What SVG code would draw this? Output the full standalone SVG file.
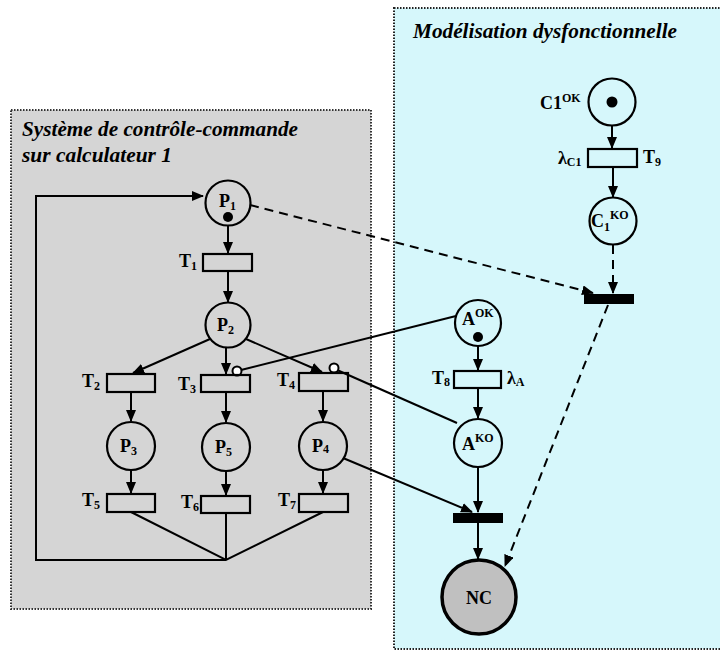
<svg xmlns="http://www.w3.org/2000/svg" width="720" height="651" viewBox="0 0 720 651">
<defs>
<marker id="arr" markerUnits="userSpaceOnUse" markerWidth="12" markerHeight="10" refX="11" refY="5" orient="auto"><path d="M0,0 L12,5 L0,10 Z" fill="#000"/></marker>
<style>
.t{font-family:"Liberation Serif",serif;font-weight:bold;fill:#000;font-size:18px}
.title{font-family:"Liberation Serif",serif;font-weight:bold;font-style:italic;font-size:20px;fill:#000}
.pl{fill:none;stroke:#000;stroke-width:2.2}
.tr{fill:none;stroke:#000;stroke-width:2.2}
.bar{fill:#000}
.ln{fill:none;stroke:#000;stroke-width:2}
.da{fill:none;stroke:#000;stroke-width:2;stroke-dasharray:9,6}
.inh{fill:#fff;stroke:#000;stroke-width:2}
.sub{font-size:12px}
</style>
</defs>
<rect width="720" height="651" fill="#fff"/>
<text class="t" x="-13" y="17" font-size="22">A</text>
<g id="box-left">
<rect x="11" y="110" width="360" height="499" fill="#d5d5d5" stroke="#333" stroke-width="2" stroke-dasharray="1.5,1.5"/>
<text class="title" x="22" y="136" textLength="276" lengthAdjust="spacingAndGlyphs">Système de contrôle-commande</text>
<text class="title" x="22" y="162" textLength="150" lengthAdjust="spacingAndGlyphs">sur calculateur 1</text>
</g>
<g id="box-right">
<rect x="394" y="8" width="330" height="641" fill="#d6f7fb" stroke="#222" stroke-width="2" stroke-dasharray="1.5,1.5"/>
<text class="title" x="413" y="38" textLength="264" lengthAdjust="spacingAndGlyphs">Modélisation dysfonctionnelle</text>
</g>
<g id="connectors">
<polyline class="ln" points="226,560 36,560 36,196 203,196" marker-end="url(#arr)"/>
<line class="ln" x1="228" y1="226" x2="228" y2="253" marker-end="url(#arr)"/>
<line class="ln" x1="228" y1="271" x2="228" y2="302" marker-end="url(#arr)"/>
<line class="ln" x1="210" y1="339" x2="133" y2="373" marker-end="url(#arr)"/>
<line class="ln" x1="226" y1="347" x2="226" y2="374" marker-end="url(#arr)"/>
<line class="ln" x1="246" y1="339" x2="322" y2="372" marker-end="url(#arr)"/>
<line class="ln" x1="131" y1="392" x2="131" y2="421" marker-end="url(#arr)"/>
<line class="ln" x1="226" y1="392" x2="226" y2="422" marker-end="url(#arr)"/>
<line class="ln" x1="323" y1="391" x2="323" y2="421" marker-end="url(#arr)"/>
<line class="ln" x1="131" y1="470" x2="131" y2="493" marker-end="url(#arr)"/>
<line class="ln" x1="226" y1="471" x2="226" y2="495" marker-end="url(#arr)"/>
<line class="ln" x1="323" y1="470" x2="323" y2="493" marker-end="url(#arr)"/>
<polyline class="ln" points="131,512 226,560 323,512"/>
<line class="ln" x1="226" y1="513" x2="226" y2="560"/>
<line class="ln" x1="456" y1="316" x2="241" y2="370"/>
<line class="ln" x1="457" y1="423" x2="337" y2="370"/>
<line class="ln" x1="343" y1="458" x2="472" y2="512" marker-end="url(#arr)"/>
<line class="ln" x1="612" y1="126" x2="612" y2="148" marker-end="url(#arr)"/>
<line class="ln" x1="613" y1="167" x2="613" y2="197" marker-end="url(#arr)"/>
<line class="da" x1="613" y1="245" x2="613" y2="293" marker-end="url(#arr)"/>
<line class="da" x1="250" y1="205" x2="593" y2="293" marker-end="url(#arr)"/>
<line class="da" x1="608" y1="305" x2="505" y2="566" marker-end="url(#arr)"/>
<line class="ln" x1="478" y1="346" x2="478" y2="370" marker-end="url(#arr)"/>
<line class="ln" x1="478" y1="388" x2="478" y2="418" marker-end="url(#arr)"/>
<line class="ln" x1="478" y1="467" x2="478" y2="512" marker-end="url(#arr)"/>
<line class="ln" x1="478" y1="523" x2="478" y2="559" marker-end="url(#arr)"/>
<circle class="inh" cx="237" cy="371" r="4.5"/>
<circle class="inh" cx="334" cy="368" r="4.5"/>
</g>
<g id="P1"><circle class="pl" cx="228" cy="203" r="22.5"/><text class="t" x="219" y="207">P<tspan class="sub" dy="3">1</tspan></text><circle cx="228" cy="217" r="5"/></g>
<g id="T1"><rect class="tr" x="203" y="254" width="49" height="17"/><text class="t" x="179" y="267">T<tspan class="sub" dy="3">1</tspan></text></g>
<g id="P2"><circle class="pl" cx="228" cy="325" r="22.5"/><text class="t" x="217" y="331">P<tspan class="sub" dy="3">2</tspan></text></g>
<g id="T2"><rect class="tr" x="107" y="374" width="48" height="18"/><text class="t" x="82" y="387">T<tspan class="sub" dy="3">2</tspan></text></g>
<g id="T3"><rect class="tr" x="201" y="375" width="49" height="17"/><text class="t" x="178" y="390">T<tspan class="sub" dy="3">3</tspan></text></g>
<g id="T4"><rect class="tr" x="299" y="373" width="49" height="18"/><text class="t" x="277" y="386">T<tspan class="sub" dy="3">4</tspan></text></g>
<g id="P3"><circle class="pl" cx="131" cy="446" r="24"/><text class="t" x="120" y="452">P<tspan class="sub" dy="3">3</tspan></text></g>
<g id="P5"><circle class="pl" cx="226" cy="447" r="24"/><text class="t" x="215" y="453">P<tspan class="sub" dy="3">5</tspan></text></g>
<g id="P4"><circle class="pl" cx="323" cy="446" r="24"/><text class="t" x="312" y="452">P<tspan class="sub" dy="1">4</tspan></text></g>
<g id="T5"><rect class="tr" x="107" y="494" width="48" height="18"/><text class="t" x="82" y="506">T<tspan class="sub" dy="3">5</tspan></text></g>
<g id="T6"><rect class="tr" x="201" y="496" width="49" height="17"/><text class="t" x="181" y="508">T<tspan class="sub" dy="3">6</tspan></text></g>
<g id="T7"><rect class="tr" x="299" y="494" width="49" height="18"/><text class="t" x="278" y="506">T<tspan class="sub" dy="3">7</tspan></text></g>
<g id="C1OK"><circle class="pl" cx="612" cy="102" r="23.5"/><circle cx="612" cy="102" r="5.5"/><text class="t" x="540" y="109">C1<tspan class="sub" dy="-7">OK</tspan></text></g>
<g id="T9"><rect class="tr" x="588" y="149" width="49" height="18"/><text class="t" x="558" y="164">λ<tspan class="sub" dy="2">C1</tspan></text><text class="t" x="643" y="163">T<tspan class="sub" dy="3">9</tspan></text></g>
<g id="C1KO"><circle class="pl" cx="613" cy="221" r="23.5"/><text class="t" x="591" y="227">C<tspan class="sub" dy="4">1</tspan><tspan class="sub" dy="-12">KO</tspan></text></g>
<g id="Bar1"><rect class="bar" x="584" y="294" width="50" height="10"/></g>
<g id="AOK"><circle class="pl" cx="478" cy="323" r="23"/><text class="t" x="462" y="325">A<tspan class="sub" dy="-8">OK</tspan></text><circle cx="478" cy="337" r="5"/></g>
<g id="T8"><rect class="tr" x="454" y="371" width="47" height="17"/><text class="t" x="432" y="384">T<tspan class="sub" dy="2">8</tspan></text><text class="t" x="507" y="384">λ<tspan class="sub" dy="2">A</tspan></text></g>
<g id="AKO"><circle class="pl" cx="478" cy="443" r="24"/><text class="t" x="462" y="450">A<tspan class="sub" dy="-8">KO</tspan></text></g>
<g id="Bar2"><rect class="bar" x="453" y="513" width="50" height="10"/></g>
<g id="NC"><circle cx="479" cy="597" r="37" fill="#c0c0c0" stroke="#000" stroke-width="3.5"/><text class="t" x="479" y="604" font-size="20" text-anchor="middle">NC</text></g>
</svg>
